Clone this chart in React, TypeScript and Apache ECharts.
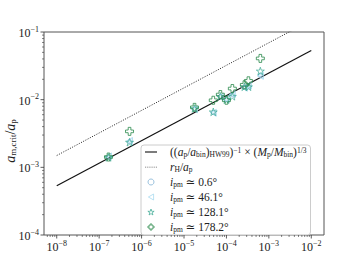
import React, { useEffect, useRef } from "react";
import * as echarts from "echarts";

// ---- data ----
const massRatio = [1.66e-7, 5.2e-7, 1.77e-5, 4.9e-5, 7.2e-5, 1.0e-4, 1.38e-4, 2.65e-4, 3.3e-4, 6.3e-4];
const crit_i0 = [1.42e-3, 2.4e-3, 7.3e-3, 6.5e-3, 1.12e-2, 1.0e-2, 1.18e-2, 1.52e-2, 1.58e-2, 2.3e-2];
const crit_i46 = [1.45e-3, 2.45e-3, 7.2e-3, 6.4e-3, 1.1e-2, 1.02e-2, 1.2e-2, 1.5e-2, 1.62e-2, 2.25e-2];
const crit_i128 = [1.4e-3, 2.35e-3, 7.4e-3, 6.6e-3, 1.12e-2, 1.0e-2, 1.12e-2, 1.55e-2, 1.55e-2, 2.65e-2];
const crit_i178 = [1.42e-3, 3.4e-3, 7.7e-3, 9.8e-3, 1.19e-2, 9.8e-3, 1.46e-2, 1.66e-2, 1.9e-2, 4.07e-2];
const lineX = [1e-8, 1e-2];
const hw99Line = [5.33e-4, 5.33e-2];
const hillLine = [1.494e-3, 1.494e-1];
const xMajorExps = [-8, -7, -6, -5, -4, -3, -2];
const yMajorExps = [-4, -3, -2, -1];

const X_MIN = Math.pow(10, -8.3);
const X_MAX = Math.pow(10, -1.7);
const Y_MIN = 1e-4;
const Y_MAX = 1e-1;

const SERIF = "'Liberation Serif', 'DejaVu Serif', serif";
const TXT = "#222";

const C_I0 = "#74a9cf";
const C_I46 = "#9fd6ee";
const C_I128 = "#3aa993";
const C_I178 = "#2b8a4c";

const STAR =
  "path://M0,-1 L0.223,-0.307 L0.951,-0.309 L0.361,0.117 L0.588,0.809 L0,0.38 L-0.588,0.809 L-0.361,0.117 L-0.951,-0.309 L-0.223,-0.307 Z";
const PLUS = "path://M2,0 L4,0 L4,2 L6,2 L6,4 L4,4 L4,6 L2,6 L2,4 L0,4 L0,2 L2,2 Z";
const TRI_LEFT = "path://M0,5 L8.66,0 L8.66,10 Z";
const SOLID_HANDLE = "path://M0,0 L12,0 L12,1.1 L0,1.1 Z";
const DOTTED_HANDLE =
  "path://M0,0 L0.8,0 L0.8,0.8 L0,0.8 Z M2,0 L2.8,0 L2.8,0.8 L2,0.8 Z M4,0 L4.8,0 L4.8,0.8 L4,0.8 Z M6,0 L6.8,0 L6.8,0.8 L6,0.8 Z M8,0 L8.8,0 L8.8,0.8 L8,0.8 Z M10,0 L10.8,0 L10.8,0.8 L10,0.8 Z M12,0 L12.8,0 L12.8,0.8 L12,0.8 Z";

function buildTicks(exps: number[], lo: number, hi: number) {
  const out: { v: number; major: boolean }[] = [];
  const e0 = exps[0] - 1;
  const e1 = exps[exps.length - 1] + 1;
  for (let e = e0; e <= e1; e++) {
    for (let k = 1; k <= 9; k++) {
      const v = k * Math.pow(10, e);
      if (v >= lo * 0.999 && v <= hi * 1.001) out.push({ v, major: k === 1 });
    }
  }
  return out;
}

const tickRich = {
  b: { fontFamily: SERIF, fontSize: 12, color: TXT, lineHeight: 14, verticalAlign: "bottom" as const },
  s: { fontFamily: SERIF, fontSize: 8, color: TXT, lineHeight: 9, verticalAlign: "top" as const },
};

function powLabel(value: number) {
  const l = Math.log10(value);
  const e = Math.round(l);
  if (Math.abs(l - e) > 1e-6) return "";
  return `{b|10}{s|−${-e}}`;
}

const legendRich = {
  m: { fontFamily: SERIF, fontStyle: "italic" as const, fontSize: 11.5, color: TXT, lineHeight: 12, verticalAlign: "middle" as const },
  r: { fontFamily: SERIF, fontSize: 11.5, color: TXT, lineHeight: 12, verticalAlign: "middle" as const },
  sb: { fontFamily: SERIF, fontSize: 7.5, color: TXT, lineHeight: 7, verticalAlign: "bottom" as const },
  sp: { fontFamily: SERIF, fontSize: 7.5, color: TXT, lineHeight: 7, verticalAlign: "top" as const },
};

const legendText: Record<string, string> = {
  hw99:
    "{r|((}{m|a}{sb|p}{r|/}{m|a}{sb|bin}{r|)}{sb|HW99}{r|)}{sp|−1}{r| × (}{m|M}{sb|p}{r|/}{m|M}{sb|bin}{r|)}{sp|1/3}",
  rh: "{m|r}{sb|H}{r|/}{m|a}{sb|p}",
  i0: "{m|i}{sb|pm}{r| ≃ 0.6°}",
  i46: "{m|i}{sb|pm}{r| ≃ 46.1°}",
  i128: "{m|i}{sb|pm}{r| ≃ 128.1°}",
  i178: "{m|i}{sb|pm}{r| ≃ 178.2°}",
};

const hollow = (c: string, w = 0.9) => ({ color: "rgba(255,255,255,0)", borderColor: c, borderWidth: w });

export default function App() {
  const ref = useRef<HTMLDivElement>(null);

  useEffect(() => {
    if (!ref.current) return;
    const chart = echarts.init(ref.current, null, { renderer: "svg" });

    const xTicks = buildTicks(xMajorExps, X_MIN, X_MAX);
    const yTicks = buildTicks(yMajorExps, Y_MIN, Y_MAX);

    const pairs = (ys: number[]) => massRatio.map((x, i) => [x, ys[i]]);

    const tickSeries = (axis: "x" | "y") => ({
      type: "custom",
      name: axis + "ticks",
      silent: true,
      clip: false,
      z: 10,
      data:
        axis === "x"
          ? xTicks.map((t) => [t.v, Y_MIN, t.major ? 1 : 0])
          : yTicks.map((t) => [X_MIN, t.v, t.major ? 1 : 0]),
      renderItem: (_p: any, api: any) => {
        const pt = api.coord([api.value(0), api.value(1)]);
        const major = api.value(2) === 1;
        const len = major ? 3.5 : 2;
        const shape =
          axis === "x"
            ? { x1: pt[0], y1: pt[1], x2: pt[0], y2: pt[1] + len }
            : { x1: pt[0], y1: pt[1], x2: pt[0] - len, y2: pt[1] };
        return {
          type: "line",
          shape,
          style: { stroke: "#333", lineWidth: major ? 0.8 : 0.6 },
        };
      },
    });

    chart.setOption({
      animation: false,
      backgroundColor: "#fff",
      grid: {
        left: 44,
        right: 36,
        top: 32,
        bottom: 13,
        show: true,
        borderColor: "#555",
        borderWidth: 1,
        backgroundColor: "transparent",
      },
      graphic: [
        {
          type: "text",
          x: 10,
          y: 141,
          rotation: Math.PI / 2,
          style: {
            text: "{m|a}{sb|m,crit}{r|/}{m|a}{sb|p}",
            align: "center",
            verticalAlign: "middle",
            rich: {
              m: { fontFamily: SERIF, fontStyle: "italic", fontSize: 14, fill: TXT, lineHeight: 15, verticalAlign: "middle" },
              r: { fontFamily: SERIF, fontSize: 14, fill: TXT, lineHeight: 15, verticalAlign: "middle" },
              sb: { fontFamily: SERIF, fontSize: 9, fill: TXT, lineHeight: 8, verticalAlign: "bottom" },
            },
          },
        },
      ],
      xAxis: {
        type: "log",
        logBase: 10,
        min: X_MIN,
        max: X_MAX,
        axisLine: { show: false },
        axisTick: { show: false },
        splitLine: { show: false },
        axisLabel: { formatter: powLabel, rich: tickRich, margin: 4, showMinLabel: true, showMaxLabel: true },
      },
      yAxis: {
        type: "log",
        logBase: 10,
        min: Y_MIN,
        max: Y_MAX,
        axisLine: { show: false },
        axisTick: { show: false },
        splitLine: { show: false },
        axisLabel: { formatter: powLabel, rich: tickRich, margin: 5 },
      },
      legend: {
        data: [
          { name: "hw99", icon: SOLID_HANDLE, itemStyle: { color: "#111", borderWidth: 0 } },
          { name: "rh", icon: DOTTED_HANDLE, itemStyle: { color: "#333", borderWidth: 0 } },
          { name: "i0", icon: "circle", itemStyle: hollow(C_I0) },
          { name: "i46", icon: TRI_LEFT, itemStyle: hollow(C_I46) },
          { name: "i128", icon: STAR, itemStyle: hollow(C_I128) },
          { name: "i178", icon: PLUS, itemStyle: hollow(C_I178, 1) },
        ],
        orient: "vertical",
        left: 141,
        top: 145,
        padding: [1, 4, 2, 4],
        itemGap: 3,
        itemWidth: 12,
        itemHeight: 6,
        backgroundColor: "rgba(255,255,255,0.85)",
        borderColor: "#ccc",
        borderWidth: 1,
        borderRadius: 3,
        selectedMode: false,
        formatter: (name: string) => legendText[name] || name,
        textStyle: { rich: legendRich, padding: [0, 0, 0, 8] },
      },
      series: [
        {
          name: "hw99",
          type: "line",
          data: lineX.map((x, i) => [x, hw99Line[i]]),
          symbol: "none",
          lineStyle: { color: "#111", width: 1.2, type: "solid" },
          itemStyle: { color: "#111" },
          z: 2,
        },
        {
          name: "rh",
          type: "line",
          data: lineX.map((x, i) => [x, hillLine[i]]),
          symbol: "none",
          lineStyle: { color: "#222", width: 1, type: [1, 1.5] },
          itemStyle: { color: "#222" },
          z: 2,
        },
        {
          name: "i0",
          type: "scatter",
          data: pairs(crit_i0),
          symbol: "circle",
          symbolSize: 4,
          itemStyle: hollow(C_I0),
          z: 3,
        },
        {
          name: "i46",
          type: "scatter",
          data: pairs(crit_i46),
          symbol: TRI_LEFT,
          symbolSize: [6, 7],
          itemStyle: { color: "rgba(159,214,238,0.35)", borderColor: C_I46, borderWidth: 0.9 },
          z: 4,
        },
        {
          name: "i128",
          type: "scatter",
          data: pairs(crit_i128),
          symbol: STAR,
          symbolSize: [8, 7.6],
          itemStyle: hollow(C_I128),
          z: 5,
        },
        {
          name: "i178",
          type: "scatter",
          data: pairs(crit_i178),
          symbol: PLUS,
          symbolSize: 8,
          itemStyle: hollow(C_I178, 1),
          z: 6,
        },
        tickSeries("x"),
        tickSeries("y"),
      ],
    });

    return () => chart.dispose();
  }, []);

  return <div ref={ref} style={{ width: 360, height: 253, position: "absolute", left: 0, top: 0 }} />;
}
